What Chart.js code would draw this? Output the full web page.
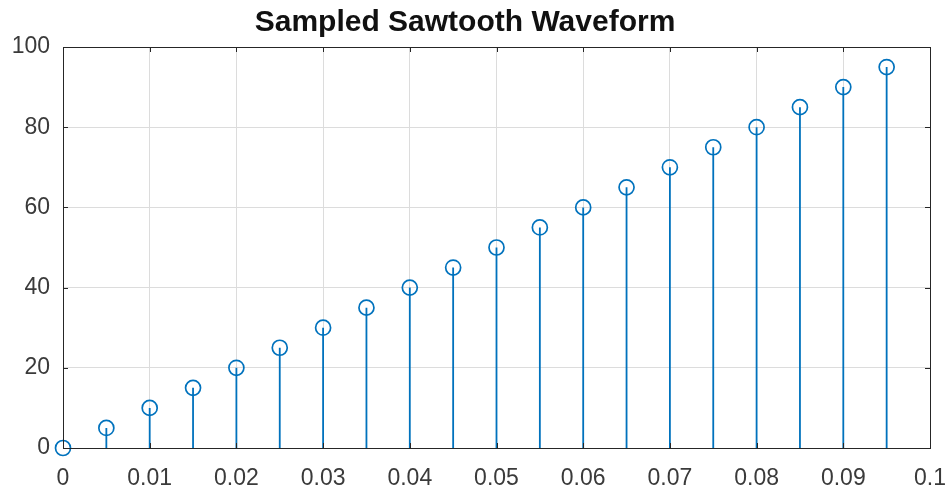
<!DOCTYPE html>
<html>
<head>
<meta charset="utf-8">
<script src="https://cdn.jsdelivr.net/npm/chart.js@4/dist/chart.umd.min.js"></script>
<style>
  body { margin: 0; background: #fff; }
  #wrap { width: 949px; height: 491px; position: relative; }
</style>
</head>
<body>
<div id="wrap"><canvas id="stemChart"></canvas></div>
<script>
// sample times (s) and sawtooth amplitudes
var sampleTimes = [0, 0.005, 0.01, 0.015, 0.02, 0.025, 0.03, 0.035, 0.04, 0.045,
                   0.05, 0.055, 0.06, 0.065, 0.07, 0.075, 0.08, 0.085, 0.09, 0.095];
var sampleValues = [0, 5, 10, 15, 20, 25, 30, 35, 40, 45,
                    50, 55, 60, 65, 70, 75, 80, 85, 90, 95];
var xTicks = [0, 0.01, 0.02, 0.03, 0.04, 0.05, 0.06, 0.07, 0.08, 0.09, 0.1];
var yTicks = [0, 20, 40, 60, 80, 100];

var stemBlue = '#0072BD';
var axisGray = '#262626';
var fontFamily = 'Liberation Sans, Arial, Helvetica, sans-serif';

// stems: a segment from the baseline to each value, broken by null gaps
var stemPoints = [];
sampleTimes.forEach(function (t, i) {
    stemPoints.push({ x: t, y: 0 });
    stemPoints.push({ x: t, y: sampleValues[i] });
    stemPoints.push({ x: t, y: null });
});

var markerPoints = sampleTimes.map(function (t, i) {
    return { x: t, y: sampleValues[i] };
});

// box around the axes plus small inward tick marks on all four sides
var axesBox = {
    id: 'axesBox',
    afterDraw: function (chart) {
        var c = chart.ctx, a = chart.chartArea;
        var xs = chart.scales.x, ys = chart.scales.y;
        var len = 5;
        c.save();
        c.strokeStyle = axisGray;
        c.lineWidth = 1;
        c.beginPath();
        xTicks.forEach(function (v) {
            var px = Math.round(xs.getPixelForValue(v)) + 0.5;
            c.moveTo(px, a.bottom); c.lineTo(px, a.bottom - len);
            c.moveTo(px, a.top); c.lineTo(px, a.top + len);
        });
        yTicks.forEach(function (v) {
            var py = Math.round(ys.getPixelForValue(v)) + 0.5;
            c.moveTo(a.left, py); c.lineTo(a.left + len, py);
            c.moveTo(a.right, py); c.lineTo(a.right - len, py);
        });
        c.stroke();
        c.strokeRect(Math.round(a.left) + 0.5, Math.round(a.top) + 0.5,
                     Math.round(a.right - a.left), Math.round(a.bottom - a.top));
        c.restore();
    }
};

var ctx = document.getElementById('stemChart').getContext('2d');
var stemChart = new Chart(ctx, {
    type: 'scatter',
    data: {
        datasets: [{
            type: 'line',
            label: 'stems',
            data: stemPoints,
            borderColor: stemBlue,
            borderWidth: 1.8,
            pointRadius: 0,
            spanGaps: false,
            fill: false
        }, {
            label: 'samples',
            data: markerPoints,
            borderColor: stemBlue,
            backgroundColor: 'rgba(0,0,0,0)',
            borderWidth: 1.7,
            pointRadius: 7.5,
            clip: false
        }]
    },
    options: {
        responsive: true,
        maintainAspectRatio: false,
        animation: false,
        layout: { padding: { left: 0, right: 19, bottom: 0, top: 0 } },
        plugins: {
            legend: { display: false },
            tooltip: { enabled: false },
            title: {
                display: true,
                text: 'Sampled Sawtooth Waveform',
                color: '#111',
                font: { family: fontFamily, size: 30, weight: 'bold' },
                padding: { top: 4.5, bottom: 6.5 }
            }
        },
        scales: {
            x: {
                type: 'linear',
                min: 0,
                max: 0.1,
                afterBuildTicks: function (scale) {
                    scale.ticks = xTicks.map(function (v) { return { value: v }; });
                },
                afterFit: function (scale) {
                    // let the end labels hang over the edges instead of shrinking the plot
                    scale.height = 43;
                    scale.paddingLeft = 0;
                    scale.paddingRight = 0;
                },
                grid: { color: '#dcdcdc', drawTicks: false },
                border: { display: false },
                ticks: {
                    color: '#3a3a3a',
                    padding: 17,
                    maxRotation: 0,
                    font: { family: fontFamily, size: 23 },
                    callback: function (v) { return String(+v.toFixed(3)); }
                }
            },
            y: {
                min: 0,
                max: 100,
                afterBuildTicks: function (scale) {
                    scale.ticks = yTicks.map(function (v) { return { value: v }; });
                },
                afterFit: function (scale) {
                    scale.width = 63;
                    scale.paddingTop = 0;
                    scale.paddingBottom = 0;
                },
                grid: { color: '#dcdcdc', drawTicks: false },
                border: { display: false },
                ticks: {
                    color: '#3a3a3a',
                    padding: 13,
                    font: { family: fontFamily, size: 23 }
                }
            }
        }
    },
    plugins: [axesBox]
});
</script>
</body>
</html>
